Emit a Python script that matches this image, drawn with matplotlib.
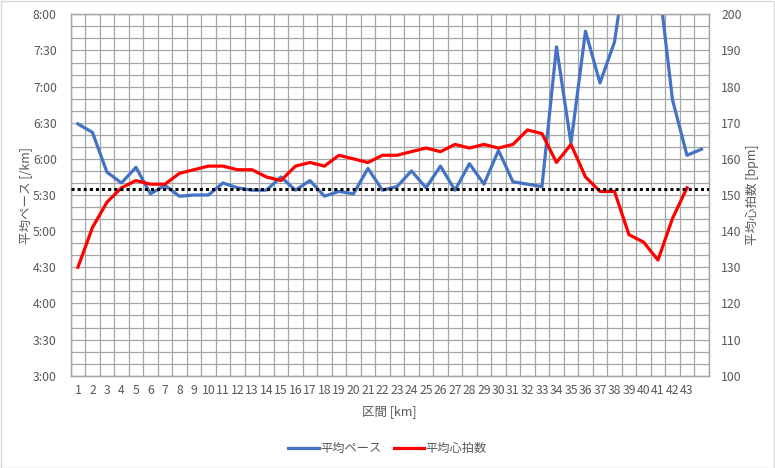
import matplotlib
matplotlib.use("Agg")
import matplotlib.pyplot as plt
from matplotlib.ticker import MultipleLocator, FuncFormatter
from matplotlib.lines import Line2D
from matplotlib.patches import Rectangle
import numpy as np

plt.rcParams['font.family'] = ['Noto Sans CJK JP', 'DejaVu Sans']

# 区間 (km)
sections = list(range(1, 45))
section_labels = [str(i) for i in range(1, 44)] + [""]

# 平均ペース (mm:ss per km), 44 values
pace_str = ["6:29", "6:22", "5:49", "5:40", "5:53", "5:31", "5:38", "5:29", "5:30", "5:30",
            "5:40", "5:36", "5:34", "5:34", "5:45", "5:34", "5:42", "5:29", "5:33", "5:31",
            "5:52", "5:34", "5:37", "5:50", "5:36", "5:54", "5:34", "5:56", "5:39", "6:07",
            "5:41", "5:39", "5:37", "7:33", "6:13", "7:46", "7:03", "7:37", "8:59", "9:05",
            "8:32", "6:49", "6:03", "6:08"]

# 平均心拍数 (bpm), 43 values
heart_rate = [130, 141, 148, 152, 154, 153, 153, 156, 157, 158,
              158, 157, 157, 155, 154, 158, 159, 158, 161, 160,
              159, 161, 161, 162, 163, 162, 164, 163, 164, 163,
              164, 168, 167, 159, 164, 155, 151, 151, 139, 137,
              132, 143.5, 152]

avg_hr = 151.6


def to_sec(s):
    m, sec = s.split(":")
    return int(m) * 60 + int(sec)


pace = [to_sec(p) for p in pace_str]

fig = plt.figure(figsize=(7.75, 4.68), dpi=100)
ax = fig.add_axes([0.0912, 0.1972, 0.8233, 0.7722])
ax2 = ax.twinx()

grid_c = '#a6a6a6'
text_c = '#595959'

ax.plot(sections, pace, color='#4472C4', linewidth=2.3, solid_joinstyle='round', zorder=3)
ax2.plot(sections[:len(heart_rate)], heart_rate, color='#FF0000', linewidth=2.3,
         solid_joinstyle='round', zorder=3)
ax2.axhline(avg_hr, color='black', linestyle=(0, (1, 1)), linewidth=2.2, zorder=4)

ax.set_xlim(0.5, 44.5)
ax.set_ylim(180, 480)
ax2.set_ylim(100, 200)

ax.set_xticks(sections)
ax.set_xticklabels(section_labels)
ax.set_xticks(np.arange(0.5, 45, 1), minor=True)
ax.yaxis.set_major_locator(MultipleLocator(30))
ax.yaxis.set_minor_locator(MultipleLocator(10))
ax.yaxis.set_major_formatter(FuncFormatter(lambda v, p: f"{int(v) // 60}:{int(v) % 60:02d}"))
ax2.yaxis.set_major_locator(MultipleLocator(10))

ax.grid(True, which='minor', axis='x', color=grid_c, linewidth=0.9)
ax.grid(True, which='both', axis='y', color=grid_c, linewidth=0.9)
ax.set_axisbelow(True)

for a in (ax, ax2):
    a.tick_params(which='both', length=0, labelsize=8.8, labelcolor=text_c)
    for sp in a.spines.values():
        sp.set_color(grid_c)
        sp.set_linewidth(0.9)
ax.tick_params(axis='x', pad=6)
ax.tick_params(axis='y', pad=10)
ax2.tick_params(axis='y', pad=9)

ax.set_xlabel("区間 [km]", fontsize=9, color=text_c, labelpad=6)
ax.set_ylabel("平均ペース [/km]", fontsize=9, color=text_c, labelpad=0)
ax2.set_ylabel("平均心拍数 [bpm]", fontsize=9, color=text_c, labelpad=3)

handles = [Line2D([], [], color='#4472C4', linewidth=2.3),
           Line2D([], [], color='#FF0000', linewidth=2.3)]
fig.legend(handles, ["平均ペース", "平均心拍数"], loc='center', bbox_to_anchor=(0.5, 0.041),
           ncol=2, frameon=False, fontsize=8.8, labelcolor=text_c, handlelength=2.5,
           columnspacing=1.0, handletextpad=0.1)

fig.patches.append(Rectangle((0.001, 0.001), 0.998, 0.997, transform=fig.transFigure,
                             fill=False, edgecolor='#d9d9d9', linewidth=1))

fig.savefig("out.png", dpi=100)
